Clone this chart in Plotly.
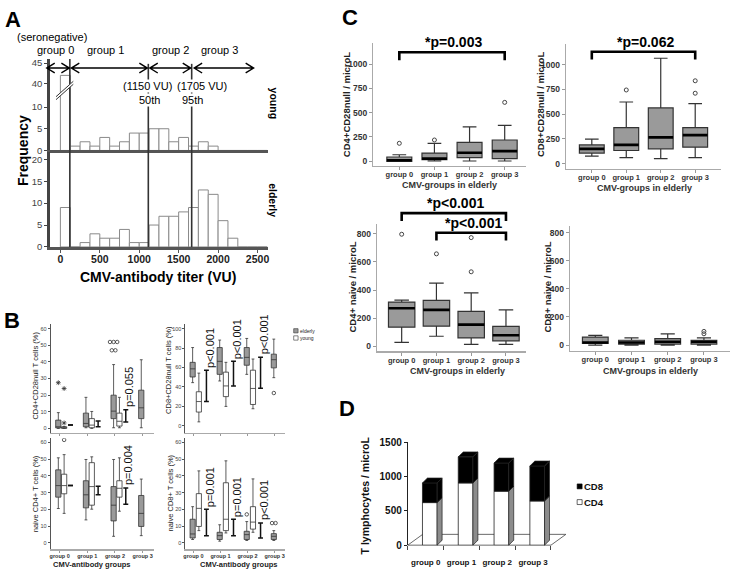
import plotly.graph_objects as go

W, H = 733, 574
FONT = "Liberation Sans, Arial, Helvetica, sans-serif"

# ======================= DATA =======================
# --- A: CMV-antibody titer histograms (bin width 125 VU)
bin_width = 125
bin_left = [0, 125, 250, 375, 500, 625, 750, 875, 1000, 1125, 1250, 1375,
            1500, 1625, 1750, 1875, 2000, 2125, 2250, 2375, 2500]
young_freq = [42, 1, 2, 1, 3, 1, 2, 4, 4, 5, 5, 2, 3, 1, 2, 1, 0, 0, 0, 0, 0]
elderly_freq = [9, 0, 1, 3, 2, 2, 4, 1, 1, 5, 7, 7, 8, 9, 13, 12, 6, 2, 0, 0, 0]
cutoff_vu = [120, 1115, 1665]
young_ticks = [0, 5, 10, 40, 45]
elderly_ticks = [0, 5, 10, 15, 20]
titer_ticks = [0, 500, 1000, 1500, 2000, 2500]

groups = ["group 0", "group 1", "group 2", "group 3"]

# --- B: box stats [lower whisker, q1, median, q3, upper whisker]
b_cd4null_eld = [[0, 0.3, 1, 5, 9.5], [0.4, 1, 3, 9.2, 18.7],
                 [0.4, 5.9, 10.4, 20, 38.4], [0.4, 5.9, 12.4, 23, 41.3]]
b_cd4null_yng = [[0, 0, 0.5, 1, 1.2], [0, 0.4, 2, 5.9, 10.2], [0.4, 1.4, 4.3, 9.2, 18.7]]
b_cd4null_pbar = [[2, 2], [1, 4.5], [3.9, 11.2]]
b_cd4null_ptxt = ["", "", "p=0.055"]
b_cd4null_out = [("e", 0, 27.5, "*"), ("y", 0, 24, "*"), ("y", 0, 3.3, "*"),
                 ("e", 2, 52, "o"), ("e", 2, 52, "o"), ("e", 2, 52, "o"),
                 ("e", 2, 47, "o"), ("e", 2, 47, "o")]

b_cd8null_eld = [[44.4, 50.2, 58.6, 65.3, 80.5], [46.1, 52.9, 66.3, 80.5, 88.2],
                 [52.9, 62.3, 70.4, 80.5, 89.9], [49.5, 59.6, 68, 73.7, 89.2]]
b_cd8null_yng = [[4, 14.1, 24.9, 35, 54.2], [19.9, 30, 41, 55.2, 65.3],
                 [17.5, 21.9, 38.4, 57.2, 68.7]]
b_cd8null_pbar = [[24.9, 57.2], [41, 66.3], [38.7, 70.4]]
b_cd8null_ptxt = ["p<0.001", "p<0.001", "p<0.001"]
b_cd8null_out = [("e", 3, 33.7, "o")]

b_cd4naive_eld = [[20.5, 27.3, 34.2, 43.6, 50.8], [13.7, 20.9, 28.7, 37.1, 49.8],
                  [3.9, 13.1, 22.5, 33.6, 49.8], [4.3, 9.8, 17.6, 28.3, 38.1]]
b_cd4naive_yng = [[17.6, 29.3, 34.2, 41, 52.7], [20.1, 22.5, 33.6, 47.9, 51.4],
                  [18.9, 27.3, 32.6, 37.1, 50.8]]
b_cd4naive_pbar = [[34.2, 34.2], [28.7, 33.8], [23, 32.8]]
b_cd4naive_ptxt = ["", "", "p=0.004"]
b_cd4naive_out = [("y", 0, 61.5, "o")]

b_cd8naive_eld = [[2, 2.9, 5.3, 14.1, 21.6], [1, 2, 4.3, 6.3, 10.8],
                  [1.4, 2, 4.9, 6.9, 12.7], [1.4, 2, 3.9, 5.5, 7.3]]
b_cd8naive_yng = [[7.3, 9.8, 20.6, 29.4, 43], [5.9, 7.3, 14.1, 35.9, 49],
                  [6.3, 8.2, 12.4, 21.6, 38.2]]
b_cd8naive_pbar = [[4.3, 20], [4.3, 14.1], [2.9, 11.8]]
b_cd8naive_ptxt = ["p=0.001", "p=0.001", "p<0.001"]
b_cd8naive_out = [("e", 2, 17, "o"), ("e", 3, 11.8, "o"), ("e", 3, 11.8, "o")]

# --- C: absolute counts in elderly
c_cd4null = [[0, 0, 10, 44, 67], [3, 17, 27, 84, 185], [3, 37, 88, 195, 354], [3, 27, 104, 219, 370]]
c_cd4null_out = [(0, 185), (1, 219), (3, 606)]
c_cd4null_sig = [(0, 3, 1121, "*p=0.003")]

c_cd8null = [[76, 106, 149, 189, 248], [60, 132, 189, 364, 623],
             [50, 149, 265, 563, 1066], [60, 166, 288, 364, 606]]
c_cd8null_out = [(1, 745), (3, 712), (3, 838)]
c_cd8null_sig = [(0, 3, 1132, "*p=0.062")]

c_cd4naive = [[26, 135, 270, 314, 328], [70, 142, 258, 326, 449],
              [12, 58, 153, 247, 379], [12, 37, 77, 140, 258]]
c_cd4naive_out = [(0, 798), (1, 658), (2, 530), (2, 774)]
c_cd4naive_sig = [(0, 3, 949, "*p<0.001"), (1, 3, 809, "*p<0.001")]

c_cd8naive = [[0, 11, 18, 57, 69], [0, 7, 18, 34, 51], [0, 7, 23, 46, 80], [0, 7, 23, 34, 51]]
c_cd8naive_out = [(3, 80), (3, 97)]
c_cd8naive_sig = []

# --- D: T lymphocytes / microL
d_cd4 = [620, 906, 786, 643]
d_cd8 = [286, 380, 410, 510]

# ======================= LAYOUT GEOMETRY (pixels) =======================
AX = {
    'A1': dict(x=(48, 267), y=(55, 148.3), xr=(-135, 2627), yr=(0, 21.06)),
    'A2': dict(x=(48, 267), y=(150, 246.7), xr=(-135, 2627), yr=(0, 21.63)),
    'B1': dict(x=(49, 153), y=(325, 436), xr=(-0.324, 3.417), yr=(-2.54, 62.95)),
    'B2': dict(x=(184.5, 285), y=(325, 436), xr=(-0.294, 3.4), yr=(-7.1, 105)),
    'B3': dict(x=(49, 153), y=(441.7, 555), xr=(-0.324, 3.417), yr=(-3.9, 62.5)),
    'B4': dict(x=(184.5, 285), y=(441.7, 555), xr=(-0.294, 3.4), yr=(-3.9, 62.5)),
    'C1': dict(x=(373, 527), y=(39, 164), xr=(-0.75, 3.61), yr=(-47, 1214)),
    'C2': dict(x=(566.7, 723), y=(40, 166.7), xr=(-0.76, 3.75), yr=(-50, 1208)),
    'C3': dict(x=(376.7, 527), y=(223, 353), xr=(-0.72, 3.58), yr=(-37, 873)),
    'C4': dict(x=(570.7, 732), y=(225, 352.7), xr=(-0.71, 3.72), yr=(-42, 849)),
    'D': dict(x=(408, 552), y=(445.7, 550.7), xr=(-0.5, 3.5), yr=(0, 1500)),
}
AXN = {'A1': 1, 'A2': 2, 'B1': 3, 'B2': 4, 'B3': 5, 'B4': 6,
       'C1': 7, 'C2': 8, 'C3': 9, 'C4': 10, 'D': 11}


def xid(k):
    n = AXN[k]
    return 'x' if n == 1 else f'x{n}'


def yid(k):
    n = AXN[k]
    return 'y' if n == 1 else f'y{n}'


def d2px(k, xv, yv):
    a = AX[k]
    (x0, x1), (t, b) = a['x'], a['y']
    (r0, r1), (s0, s1) = a['xr'], a['yr']
    return (x0 + (xv - r0) / (r1 - r0) * (x1 - x0),
            b - (yv - s0) / (s1 - s0) * (b - t))


def P(x, y):
    return x / W, 1 - y / H


shapes, annotations = [], []


def add_line(x0, y0, x1, y1, color='#000', width=1, layer='above'):
    a, b = P(x0, y0)
    c, d = P(x1, y1)
    shapes.append(dict(type='line', xref='paper', yref='paper', x0=a, y0=b, x1=c, y1=d,
                       line=dict(color=color, width=width), layer=layer))


def add_path(subpaths, fill='rgba(0,0,0,0)', color='#000', width=1, closed=False, layer='above'):
    s = ''
    for pts in subpaths:
        s += 'M ' + ' L '.join(f'{x / W:.5f},{1 - y / H:.5f}' for x, y in pts)
        s += ' Z ' if closed else ' '
    shapes.append(dict(type='path', xref='paper', yref='paper', path=s.strip(), fillcolor=fill,
                       line=dict(color=color, width=width), layer=layer))


def add_text(text, x, y, size, color='#000', bold=False, angle=0, xanchor='center',
             yanchor='middle', bg=None):
    a, b = P(x, y)
    d = dict(text=f'<b>{text}</b>' if bold else text, x=a, y=b, xref='paper', yref='paper',
             showarrow=False, font=dict(family=FONT, size=size, color=color), textangle=angle,
             xanchor=xanchor, yanchor=yanchor, borderpad=0)
    if bg:
        d['bgcolor'] = bg
    annotations.append(d)


layout = {}


def set_axes(k, xopt, yopt):
    n = AXN[k]
    a = AX[k]
    base = dict(showgrid=False, zeroline=False, fixedrange=True)
    xa = dict(base, domain=[a['x'][0] / W, a['x'][1] / W], range=list(a['xr']), anchor=yid(k))
    xa.update(xopt)
    ya = dict(base, domain=[1 - a['y'][1] / H, 1 - a['y'][0] / H], range=list(a['yr']), anchor=xid(k))
    ya.update(yopt)
    suf = '' if n == 1 else str(n)
    layout['xaxis' + suf] = xa
    layout['yaxis' + suf] = ya


def tf(size, color='#333', bold=False):
    d = dict(family=FONT, size=size, color=color)
    if bold:
        d['weight'] = 'bold'
    return d


fig = go.Figure()

# ======================= PANEL A =======================
def brk(v):
    return v if v <= 10 else 15.4 + (v - 40) * 0.94


bin_centers = [l + bin_width / 2 for l in bin_left]
for k, freq, tfun in (('A1', young_freq, brk), ('A2', elderly_freq, lambda v: v)):
    fig.add_trace(go.Bar(x=bin_centers, y=[tfun(v) for v in freq], width=bin_width,
                         marker=dict(color='white', line=dict(color='#8a8a8a', width=1)),
                         xaxis=xid(k), yaxis=yid(k), hoverinfo='skip'))

set_axes('A1',
         dict(showline=True, linecolor='#555', linewidth=3, showticklabels=False, ticks=''),
         dict(showline=True, linecolor='#444', linewidth=2.5, ticks='outside', ticklen=3,
              tickcolor='#444', tickvals=[brk(v) for v in young_ticks],
              ticktext=[str(v) for v in young_ticks], tickfont=tf(9.5, '#444')))
set_axes('A2',
         dict(showline=True, linecolor='#555', linewidth=3, ticks='outside', ticklen=3,
              tickcolor='#555', tickvals=titer_ticks, tickfont=tf(10.5, '#222', True),
              ticklabelstandoff=-3),
         dict(showline=True, linecolor='#444', linewidth=2.5, ticks='outside', ticklen=3,
              tickcolor='#444', tickvals=elderly_ticks, tickfont=tf(9.5, '#444')))

# cutoff lines
cut_px = [d2px('A1', c, 0)[0] for c in cutoff_vu]
add_line(cut_px[0], 55, cut_px[0], 246.7, '#333', 1.6)
add_line(cut_px[1], 60, cut_px[1], 246.7, '#333', 1.6)
add_line(cut_px[2], 60, cut_px[2], 246.7, '#333', 1.6)

# break marks on the tall young bar
add_path([[(54.3, 93.5), (71.7, 77.8), (71.7, 80.8), (54.3, 96.5)]], fill='white',
         color='white', width=0.5, closed=True)
add_line(54.3, 93.5, 71.7, 77.8, '#333', 1)
add_line(54.3, 96.5, 71.7, 80.8, '#333', 1)

# double arrows
ay = 64.3
segs = [(45, cut_px[0] - 0.5), (cut_px[0] + 1.5, cut_px[1] - 1), (cut_px[1] + 1.5, cut_px[2] - 1),
        (cut_px[2] + 2.5, 253)]
for a, b in segs:
    add_path([[(a, ay), (b, ay)], [(a + 8, ay - 5), (a, ay), (a + 8, ay + 5)],
              [(b - 8, ay - 5), (b, ay), (b - 8, ay + 5)]], color='#000', width=1.4)

add_text('(seronegative)', 50, 33, 11)
for lbl, cx in zip(groups, [53.3, 104.3, 169.3, 218.3]):
    add_text(lbl, cx, 45.5, 11)
add_text('(1150 VU)', 146, 83, 11, bg='white')
add_text('(1705 VU)', 201.5, 83, 11, bg='white')
add_text('50th', 148, 97, 11, bg='white')
add_text('95th', 192, 97, 11, bg='white')
add_text('young', 273, 100, 10.5, bold=True, angle=90)
add_text('elderly', 273, 198.5, 10.5, bold=True, angle=90)
add_text('Frequency', 21, 148, 14, bold=True, angle=-90)
add_text('CMV-antibody titer (VU)', 157, 277, 14, bold=True)

# ======================= PANEL B =======================
B_PANELS = [
    ('B1', b_cd4null_eld, b_cd4null_yng, b_cd4null_pbar, b_cd4null_ptxt, b_cd4null_out,
     (-0.05, 0.16, 0.39), [0, 10, 20, 30, 40, 50, 60], False, 'CD4+CD28null T cells (%)', (34, 378)),
    ('B2', b_cd8null_eld, b_cd8null_yng, b_cd8null_pbar, b_cd8null_ptxt, b_cd8null_out,
     (-0.03, 0.2, 0.48), [0, 20, 40, 60, 80, 100], False, 'CD8+CD28null T cells (%)', (168, 372)),
    ('B3', b_cd4naive_eld, b_cd4naive_yng, b_cd4naive_pbar, b_cd4naive_ptxt, b_cd4naive_out,
     (-0.05, 0.16, 0.39), [0, 10, 20, 30, 40, 50, 60], True, 'naive CD4+ T cells (%)', (34, 498)),
    ('B4', b_cd8naive_eld, b_cd8naive_yng, b_cd8naive_pbar, b_cd8naive_ptxt, b_cd8naive_out,
     (-0.03, 0.2, 0.48), [0, 10, 20, 30, 40, 50, 60], True, 'naive CD8+ T cells (%)', (169, 498)),
]
BW = 0.19
for (k, eld, yng, pbar, ptxt, outs, offs, yt, showlab, ytitle, ypos) in B_PANELS:
    oe, oy, ob = offs
    for stats, off, fill in ((eld, oe, '#9a9a9a'), (yng, oy, 'white')):
        fig.add_trace(go.Box(
            x=[g + off for g in range(len(stats))],
            lowerfence=[s[0] for s in stats], q1=[s[1] for s in stats],
            median=[s[2] for s in stats], q3=[s[3] for s in stats],
            upperfence=[s[4] for s in stats], width=BW, whiskerwidth=0.55,
            fillcolor=fill, line=dict(color='#333', width=0.8), boxpoints=False,
            xaxis=xid(k), yaxis=yid(k), hoverinfo='skip'))
    # outliers
    seen = {}
    for s, g, v, sym in outs:
        seen.setdefault((s, g, v, sym), 0)
        seen[(s, g, v, sym)] += 1
    for (s, g, v, sym), cnt in seen.items():
        base = g + (oe if s == 'e' else oy)
        xs = [base + (i - (cnt - 1) / 2) * 0.13 for i in range(cnt)]
        fig.add_trace(go.Scatter(
            x=xs, y=[v] * cnt, mode='markers', xaxis=xid(k), yaxis=yid(k), hoverinfo='skip',
            marker=dict(symbol='asterisk-open' if sym == '*' else 'circle-open', size=4 if sym == '*' else 3.5,
                        color='#333', line=dict(width=0.8, color='#333'))))
    # significance I-bars
    xs, ys = [], []
    cap = 0.09
    for g, (lo, hi) in enumerate(pbar):
        xc = g + ob
        xs += [xc - cap, xc + cap, None, xc, xc, None, xc - cap, xc + cap, None]
        ys += [lo, lo, None, lo, hi, None, hi, hi, None]
    fig.add_trace(go.Scatter(x=xs, y=ys, mode='lines', line=dict(color='#111', width=1.5),
                             xaxis=xid(k), yaxis=yid(k), hoverinfo='skip'))
    for g, (txt, (lo, hi)) in enumerate(zip(ptxt, pbar)):
        if txt:
            bx, by = d2px(k, g + ob, hi)
            L = 3.64 * 11
            add_text(txt, bx + 3, by - 3 - L / 2, 11, '#111', angle=-90)
    set_axes(k,
             dict(showline=True, linecolor='#aaa', linewidth=1.5, ticks='outside', ticklen=2,
                  tickcolor='#999', tickvals=[0, 1, 2, 3], ticktext=groups,
                  showticklabels=showlab, tickfont=tf(5.5, '#333', True), ticklabelstandoff=-1),
             dict(showline=True, linecolor='#555', linewidth=1, ticks='outside', ticklen=2,
                  tickcolor='#555', tickvals=yt, tickfont=tf(5.5, '#444')))
    add_text(ytitle, ypos[0], ypos[1], 7.5, '#222', angle=-90)

add_text('CMV-antibody groups', 90, 570, 7.5, '#222', bold=True)
add_text('CMV-antibody groups', 238, 570, 7.5, '#222', bold=True)
# legend of B
add_path([[(293.3, 330), (297.7, 330), (297.7, 334.3), (293.3, 334.3)]], fill='#9a9a9a',
         color='#333', width=0.6, closed=True)
add_path([[(293.3, 337.3), (297.7, 337.3), (297.7, 341.7), (293.3, 341.7)]], fill='white',
         color='#333', width=0.6, closed=True)
add_text('elderly', 298.5, 332.2, 5, '#222', xanchor='left')
add_text('young', 298.5, 339.5, 5, '#222', xanchor='left')

# ======================= PANEL C =======================
C_PANELS = [
    ('C1', c_cd4null, c_cd4null_out, c_cd4null_sig, [0, 250, 500, 750, 1000],
     'CD4+CD28null / microL', (346, 101), (450, 184), 0.71),
    ('C2', c_cd8null, c_cd8null_out, c_cd8null_sig, [0, 250, 500, 750, 1000],
     'CD8+CD28null / microL', (541, 101), (646, 186.5), 0.72),
    ('C3', c_cd4naive, c_cd4naive_out, c_cd4naive_sig, [0, 200, 400, 600, 800],
     'CD4+ naive / microL', (352, 288), (458, 373.5), 0.76),
    ('C4', c_cd8naive, c_cd8naive_out, c_cd8naive_sig, [0, 200, 400, 600, 800],
     'CD8+ naive / microL', (548, 288), (652, 373), 0.71),
]
for (k, stats, outs, sigs, yt, ytitle, ypos, xpos, bw) in C_PANELS:
    gx = list(range(len(stats)))
    fig.add_trace(go.Box(
        x=gx, lowerfence=[s[0] for s in stats], q1=[s[1] for s in stats],
        median=[s[2] for s in stats], q3=[s[3] for s in stats],
        upperfence=[s[4] for s in stats], width=bw, whiskerwidth=0.55,
        fillcolor='#9a9a9a', line=dict(color='#333', width=1.2), boxpoints=False,
        xaxis=xid(k), yaxis=yid(k), hoverinfo='skip'))
    mx, my = [], []
    for g, s in zip(gx, stats):
        mx += [g - bw / 2, g + bw / 2, None]
        my += [s[2], s[2], None]
    fig.add_trace(go.Scatter(x=mx, y=my, mode='lines', line=dict(color='#000', width=2.6),
                             xaxis=xid(k), yaxis=yid(k), hoverinfo='skip'))
    if outs:
        fig.add_trace(go.Scatter(
            x=[o[0] for o in outs], y=[o[1] for o in outs], mode='markers',
            marker=dict(symbol='circle-open', size=4, color='#444', line=dict(width=1, color='#444')),
            xaxis=xid(k), yaxis=yid(k), hoverinfo='skip'))
    for g0, g1, yb, txt in sigs:
        x0p, ytop = d2px(k, g0, yb)
        x1p, _ = d2px(k, g1, yb)
        add_path([[(x0p, ytop + 8), (x0p, ytop), (x1p, ytop), (x1p, ytop + 8)]],
                 color='#000', width=2.6)
        add_text(txt, (x0p + x1p) / 2 + 2, ytop - 10, 14, '#000', bold=True)
    set_axes(k,
             dict(showline=True, linecolor='#aaa', linewidth=1.5, ticks='outside', ticklen=3,
                  tickcolor='#999', tickvals=[0, 1, 2, 3], ticktext=groups,
                  tickfont=tf(7.5, '#333', True), ticklabelstandoff=-2),
             dict(showline=True, linecolor='#aaa', linewidth=1, ticks='outside', ticklen=3,
                  tickcolor='#999', tickvals=yt, tickfont=tf(8.5, '#333', True)))
    add_text(ytitle, ypos[0], ypos[1], 9.5, '#222', bold=True, angle=-90)
    add_text('CMV-groups in elderly', xpos[0], xpos[1], 9, '#333', bold=True)

# ======================= PANEL D =======================
DW, DOFF = 0.41, -0.09
gx = list(range(len(d_cd4)))
fig.add_trace(go.Bar(x=gx, y=d_cd4, width=DW, offset=DOFF,
                     marker=dict(color='white', line=dict(color='#222', width=0.8)),
                     xaxis=xid('D'), yaxis=yid('D'), hoverinfo='skip'))
fig.add_trace(go.Bar(x=gx, y=d_cd8, base=d_cd4, width=DW, offset=DOFF,
                     marker=dict(color='black', line=dict(color='#222', width=0.8)),
                     xaxis=xid('D'), yaxis=yid('D'), hoverinfo='skip'))
# floor of 3D chart
fl, fb = d2px('D', -0.5, 0)
fr, _ = d2px('D', 3.5, 0)
add_path([[(fl, fb), (fr, fb), (fr + 15, fb - 11), (fl + 15, fb - 11), (fl, fb)]],
         color='#444', width=0.8, layer='below')
# side & top faces
ddx, ddy = 5, 5
for g, c4, c8 in zip(gx, d_cd4, d_cd8):
    xl, y0 = d2px('D', g + DOFF, 0)
    xr_, y4 = d2px('D', g + DOFF + DW, c4)
    _, yt_ = d2px('D', g, c4 + c8)
    add_path([[(xr_, y0), (xr_ + ddx, y0 - ddy), (xr_ + ddx, y4 - ddy), (xr_, y4)]],
             fill='#8c8c8c', color='#222', width=0.7, closed=True)
    add_path([[(xr_, y4), (xr_ + ddx, y4 - ddy), (xr_ + ddx, yt_ - ddy), (xr_, yt_)]],
             fill='#000', color='#222', width=0.7, closed=True)
    add_path([[(xl, yt_), (xl + ddx, yt_ - ddy), (xr_ + ddx, yt_ - ddy), (xr_, yt_)]],
             fill='#000', color='#222', width=0.7, closed=True)

set_axes('D',
         dict(showline=False, ticks='', tickvals=gx, ticktext=groups,
              tickfont=tf(8, '#111', True), ticklabelstandoff=11,
              minor=dict(tickvals=[-0.5, 0.5, 1.5, 2.5, 3.5], ticks='outside', ticklen=4,
                         tickcolor='#444')),
         dict(showline=True, linecolor='#222', linewidth=1, ticks='outside', ticklen=3,
              tickcolor='#222', tickvals=[0, 500, 1000, 1500], tickfont=tf(10, '#111', True)))
add_text('T lymphocytes / microL', 365, 500, 10.5, '#111', bold=True, angle=-90)
add_path([[(578.3, 488.3), (583.3, 488.3), (583.3, 493.3), (578.3, 493.3)]], fill='#000',
         color='#000', width=0.6, closed=True)
add_path([[(578.3, 504.3), (583.3, 504.3), (583.3, 509.3), (578.3, 509.3)]], fill='white',
         color='#000', width=0.6, closed=True)
add_text('CD8', 584.5, 491, 9.5, '#111', bold=True, xanchor='left')
add_text('CD4', 584.5, 507, 9.5, '#111', bold=True, xanchor='left')

# ======================= PANEL LETTERS =======================
add_text('A', 11, 14.5, 22, '#000', bold=True)
add_text('B', 10, 322, 22, '#000', bold=True)
add_text('C', 350, 13, 22, '#000', bold=True)
add_text('D', 347, 411, 22, '#000', bold=True)

fig.update_layout(width=W, height=H, autosize=False, margin=dict(l=0, r=0, t=0, b=0),
                  paper_bgcolor='white', plot_bgcolor='rgba(0,0,0,0)', showlegend=False,
                  barmode='overlay', font=dict(family=FONT), shapes=shapes,
                  annotations=annotations, **layout)
fig.write_html("out.html", config={'displayModeBar': False, 'staticPlot': True},
               post_script="document.body.style.margin='0';document.body.style.padding='0';"
                           "document.body.style.overflow='hidden';")
